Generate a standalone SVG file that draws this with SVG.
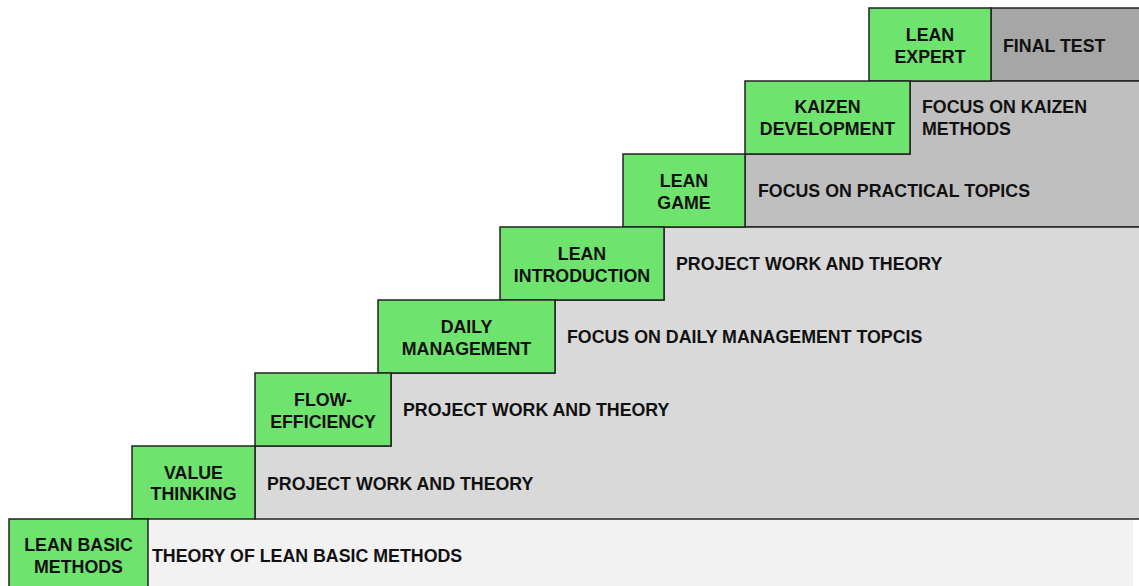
<svg xmlns="http://www.w3.org/2000/svg" width="1139" height="586" viewBox="0 0 1139 586">
<style>
.band{stroke:#222;stroke-width:1.5}
.b1{fill:#a6a6a6}.b2{fill:#bfbfbf}.b3{fill:#d9d9d9}.b4{fill:#f2f2f2}
.step{fill:#6ee36e;stroke:#222;stroke-width:1.5}
text{font-family:"Liberation Sans",Arial,sans-serif;font-weight:bold;font-size:17.8px;fill:#111}
.c{text-anchor:middle}
</style>
<rect width="1139" height="586" fill="#fff"/>
<g id="bands">
<rect class="b4" x="148" y="519" width="985" height="72"/>
<rect class="band b1" x="991" y="8" width="152" height="73"/>
<path class="band b2" d="M910 81H1143V227H745V154H910Z"/>
<path class="band b3" d="M664 227H1143V519H255V446H391V373H555V300H664Z"/>
</g>
<g id="n1"><rect class="step" x="869" y="8" width="122" height="73"/><text class="c" x="930" y="41">LEAN</text><text class="c" x="930" y="63">EXPERT</text><text x="1003" y="52">FINAL TEST</text></g>
<g id="n2"><rect class="step" x="745" y="81" width="165" height="73"/><text class="c" x="827.5" y="113">KAIZEN</text><text class="c" x="827.5" y="135">DEVELOPMENT</text><text x="922" y="113">FOCUS ON KAIZEN</text><text x="922" y="135">METHODS</text></g>
<g id="n3"><rect class="step" x="623" y="154" width="122" height="73"/><text class="c" x="684" y="187">LEAN</text><text class="c" x="684" y="209">GAME</text><text x="758" y="197">FOCUS ON PRACTICAL TOPICS</text></g>
<g id="n4"><rect class="step" x="500" y="227" width="164" height="73"/><text class="c" x="582" y="260">LEAN</text><text class="c" x="582" y="282">INTRODUCTION</text><text x="676" y="270">PROJECT WORK AND THEORY</text></g>
<g id="n5"><rect class="step" x="378" y="300" width="177" height="73"/><text class="c" x="466.5" y="333">DAILY</text><text class="c" x="466.5" y="355">MANAGEMENT</text><text x="567" y="343">FOCUS ON DAILY MANAGEMENT TOPCIS</text></g>
<g id="n6"><rect class="step" x="255" y="373" width="136" height="73"/><text class="c" x="323" y="406">FLOW-</text><text class="c" x="323" y="428">EFFICIENCY</text><text x="403" y="416">PROJECT WORK AND THEORY</text></g>
<g id="n7"><rect class="step" x="132" y="446" width="123" height="73"/><text class="c" x="193.5" y="479">VALUE</text><text class="c" x="193.5" y="500">THINKING</text><text x="267" y="490">PROJECT WORK AND THEORY</text></g>
<g id="n8"><rect class="step" x="9" y="519" width="139" height="72"/><text class="c" x="78.5" y="551">LEAN BASIC</text><text class="c" x="78.5" y="573">METHODS</text><text x="152" y="562">THEORY OF LEAN BASIC METHODS</text></g>
<g id="connectors"/>
</svg>
